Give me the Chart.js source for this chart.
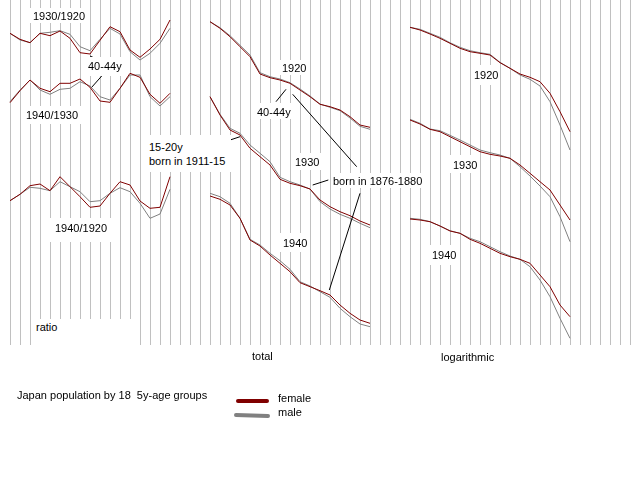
<!DOCTYPE html>
<html><head><meta charset="utf-8">
<script src="https://cdn.jsdelivr.net/npm/chart.js@4.4.1/dist/chart.umd.min.js"></script>
<style>
html,body{margin:0;padding:0;background:#fff;}
#wrap{position:relative;width:640px;height:480px;overflow:hidden;background:#fff;}
#c{position:absolute;left:0;top:0;}
.box{position:absolute;background:#fff;}
.t{position:absolute;font:11px "Liberation Sans",Arial,sans-serif;line-height:13px;color:#000;white-space:pre;}
</style></head><body>
<div id="wrap"><canvas id="c" width="640" height="480"></canvas></div>
<script>
// 17 five-year age groups drawn per panel
const ageGroups = ['0-4','5-9','10-14','15-19','20-24','25-29','30-34','35-39','40-44','45-49','50-54','55-59','60-64','65-69','70-74','75-79','80-84'];

// ratio panel (same age group, later census / earlier census)
const ratio1930to1920Female = [1.067,1.007,0.973,1.067,1.043,1.090,1.017,0.873,0.860,0.997,1.133,1.083,0.900,0.827,0.910,1.007,1.200];
const ratio1930to1920Male   = [1.067,1.000,0.973,1.067,1.077,1.093,1.057,0.933,0.893,1.007,1.117,1.060,0.883,0.800,0.867,0.967,1.117];
const ratio1940to1930Female = [0.873,0.993,1.100,1.017,0.983,1.067,1.067,1.110,1.027,0.890,0.877,1.017,1.167,1.127,0.957,0.867,0.967];
const ratio1940to1930Male   = [0.883,1.000,1.100,1.000,0.957,1.007,1.017,1.083,1.040,0.933,0.900,1.017,1.150,1.150,0.933,0.840,0.933];
const ratio1940to1920Female = [1.243,1.307,1.393,1.410,1.343,1.483,1.383,1.283,1.177,1.190,1.317,1.433,1.400,1.240,1.167,1.177,1.483];
const ratio1940to1920Male   = [1.243,1.307,1.377,1.367,1.343,1.433,1.383,1.333,1.233,1.243,1.317,1.373,1.333,1.217,1.067,1.110,1.357];

// total panel (thousands, per census)
const total1920Female = [4612,4348,4012,3612,3212,2520,2372,2280,2148,1880,1612,1308,1212,1080,812,480,388];
const total1920Male   = [4612,4372,4052,3668,3280,2572,2412,2320,2172,1920,1640,1320,1188,1052,760,428,308];
const total1930Female = [5612,4880,4280,4080,3548,3212,2880,2308,2148,2052,1920,1480,1212,1012,852,640,480];
const total1930Male   = [5612,4908,4348,4148,3680,3348,3012,2388,2212,2080,1920,1412,1120,908,748,548,372];
const total1940Female = [5640,5508,5280,4748,3880,3640,3280,2948,2612,2172,2012,1852,1680,1280,948,680,548];
const total1940Male   = [5748,5612,5348,4748,3908,3680,3348,3052,2708,2212,2040,1812,1588,1148,812,520,412];

// logarithmic panel (log10 of population)
const log1920Female = [6.577,6.550,6.510,6.467,6.417,6.367,6.333,6.317,6.300,6.223,6.167,6.110,6.077,6.033,5.917,5.733,5.533];
const log1920Male   = [6.577,6.557,6.517,6.477,6.423,6.377,6.343,6.323,6.307,6.227,6.167,6.100,6.057,5.990,5.833,5.600,5.350];
const log1930Female = [6.650,6.610,6.557,6.533,6.483,6.433,6.383,6.333,6.307,6.290,6.267,6.200,6.117,6.033,5.950,5.800,5.650];
const log1930Male   = [6.657,6.617,6.560,6.543,6.497,6.450,6.400,6.350,6.323,6.300,6.267,6.183,6.090,5.990,5.883,5.683,5.433];
const log1940Female = [6.660,6.650,6.633,6.590,6.540,6.517,6.457,6.417,6.367,6.317,6.283,6.257,6.217,6.100,5.983,5.800,5.683];
const log1940Male   = [6.667,6.657,6.633,6.590,6.543,6.517,6.467,6.433,6.383,6.333,6.290,6.257,6.183,6.050,5.883,5.667,5.467];

// ---------- layout ----------
const PLOT_H = 345;
const FEMALE = '#800000', MALE = '#808080';
const axisSpec = [
  {id:'yRatio1', top:1.4,   perPx:0.01},
  {id:'yRatio2', top:1.9,   perPx:0.01},
  {id:'yRatio3', top:3.25,  perPx:0.01},
  {id:'yTotal1', top:5480,  perPx:40},
  {id:'yTotal2', top:9480,  perPx:40},
  {id:'yTotal3', top:13480, perPx:40},
  {id:'yLog1',   top:6.85,  perPx:0.01},
  {id:'yLog2',   top:7.85,  perPx:0.01},
  {id:'yLog3',   top:8.85,  perPx:0.01}
];
const seriesSpec = [
  [ratio1930to1920Female,'yRatio1',10,'F'],[ratio1930to1920Male,'yRatio1',10,'M'],
  [ratio1940to1930Female,'yRatio2',10,'F'],[ratio1940to1930Male,'yRatio2',10,'M'],
  [ratio1940to1920Female,'yRatio3',10,'F'],[ratio1940to1920Male,'yRatio3',10,'M'],
  [total1920Female,'yTotal1',210,'F'],[total1920Male,'yTotal1',210,'M'],
  [total1930Female,'yTotal2',210,'F'],[total1930Male,'yTotal2',210,'M'],
  [total1940Female,'yTotal3',210,'F'],[total1940Male,'yTotal3',210,'M'],
  [log1920Female,'yLog1',410,'F'],[log1920Male,'yLog1',410,'M'],
  [log1930Female,'yLog2',410,'F'],[log1930Male,'yLog2',410,'M'],
  [log1940Female,'yLog3',410,'F'],[log1940Male,'yLog3',410,'M']
];

const datasets = seriesSpec.map(([vals, axis, x0, sex]) => ({
  label: sex === 'F' ? 'female' : 'male',
  data: vals.map((v, i) => ({x: x0 + 10 * i, y: v})),
  yAxisID: axis,
  xAxisID: 'x',
  borderColor: sex === 'F' ? FEMALE : MALE,
  borderWidth: 1,
  pointRadius: 0,
  tension: 0,
  fill: false,
  order: sex === 'F' ? 0 : 1
}));

const scales = {
  x: {
    type: 'linear', axis: 'x', min: 0, max: 640, display: true,
    ticks: {display: false, stepSize: 10},
    grid: {
      drawTicks: false, lineWidth: 1,
      color: ctx => (ctx.tick && (ctx.tick.value === 0 || ctx.tick.value === 640)) ? 'rgba(0,0,0,0)' : '#c0c0c0'
    },
    border: {display: false}
  }
};
axisSpec.forEach(a => {
  scales[a.id] = {type: 'linear', axis: 'y', position: 'left', display: false, max: a.top, min: a.top - PLOT_H * a.perPx};
});

// leader lines of the annotations (pixel positions)
const leaders = [
  [90,56,100,60.7],[91.7,87.3,101.7,76],
  [193.3,152.3,240,136.7],
  [276,101.7,286,89.3],
  [292.7,94.3,356.7,166.7],
  [312.7,185,328.3,180],
  [360,193.3,329.3,290]
];
const legendLines = [
  {color: FEMALE, x1:238, y1:401, x2:267, y2:401},
  {color: MALE,   x1:236, y1:415, x2:268, y2:416}
];

const extras = {
  id: 'extras',
  afterDraw(chart) {
    const c = chart.ctx;
    c.save();
    c.strokeStyle = '#000'; c.lineWidth = 1;
    leaders.forEach(([x1,y1,x2,y2]) => { c.beginPath(); c.moveTo(x1,y1); c.lineTo(x2,y2); c.stroke(); });
    c.lineWidth = 4; c.lineCap = 'round';
    legendLines.forEach(l => { c.strokeStyle = l.color; c.beginPath(); c.moveTo(l.x1,l.y1); c.lineTo(l.x2,l.y2); c.stroke(); });
    c.restore();
  }
};

new Chart(document.getElementById('c'), {
  type: 'line',
  data: {datasets},
  options: {
    responsive: false, animation: false, devicePixelRatio: 1,
    layout: {padding: {left: 0, right: 0, top: 0, bottom: 480 - PLOT_H}},
    plugins: {legend: {display: false}, tooltip: {enabled: false}},
    scales
  },
  plugins: [extras]
});

// white label boxes that interrupt the grid
const boxes = [
  [30,8,57,15],[85,57,40,19],[23,106,59,18],[45,218,67,24],[35,319,101,27],
  [145,135,86,37],[278,60,31,15],[255,103,38,16],[292,153,30,17],[331,173,93,15],
  [280,233,30,19],[472,65,28,20],[450,155,30,18],[430,245,28,20]
];
const texts = [
  ['1930/1920',33,16],['40-44y',88,66.5],['1940/1930',26,115],['1940/1920',55,228.5],['ratio',36,327],
  ['15-20y',149,147],['born in 1911-15',149,161],
  ['1920',282,68],['40-44y',257,112.5],['1930',295,162.5],['born in 1876-1880',333,181],['1940',283,243],
  ['1920',474,75],['1930',453,165],['1940',432,255],
  ['total',252,356],['logarithmic',441,357],
  ['Japan population by 18  5y-age groups',17,395],
  ['female',278,398.5],['male',278,412.5]
];
const wrap = document.getElementById('wrap');
boxes.forEach(([x,y,w,h]) => {
  const d = document.createElement('div'); d.className = 'box';
  d.style.left = x+'px'; d.style.top = y+'px'; d.style.width = w+'px'; d.style.height = h+'px';
  wrap.appendChild(d);
});
texts.forEach(([s,x,y]) => {
  const d = document.createElement('div'); d.className = 't'; d.textContent = s;
  d.style.left = x+'px'; d.style.top = (y-6.5)+'px';
  wrap.appendChild(d);
});
</script>
</body></html>
